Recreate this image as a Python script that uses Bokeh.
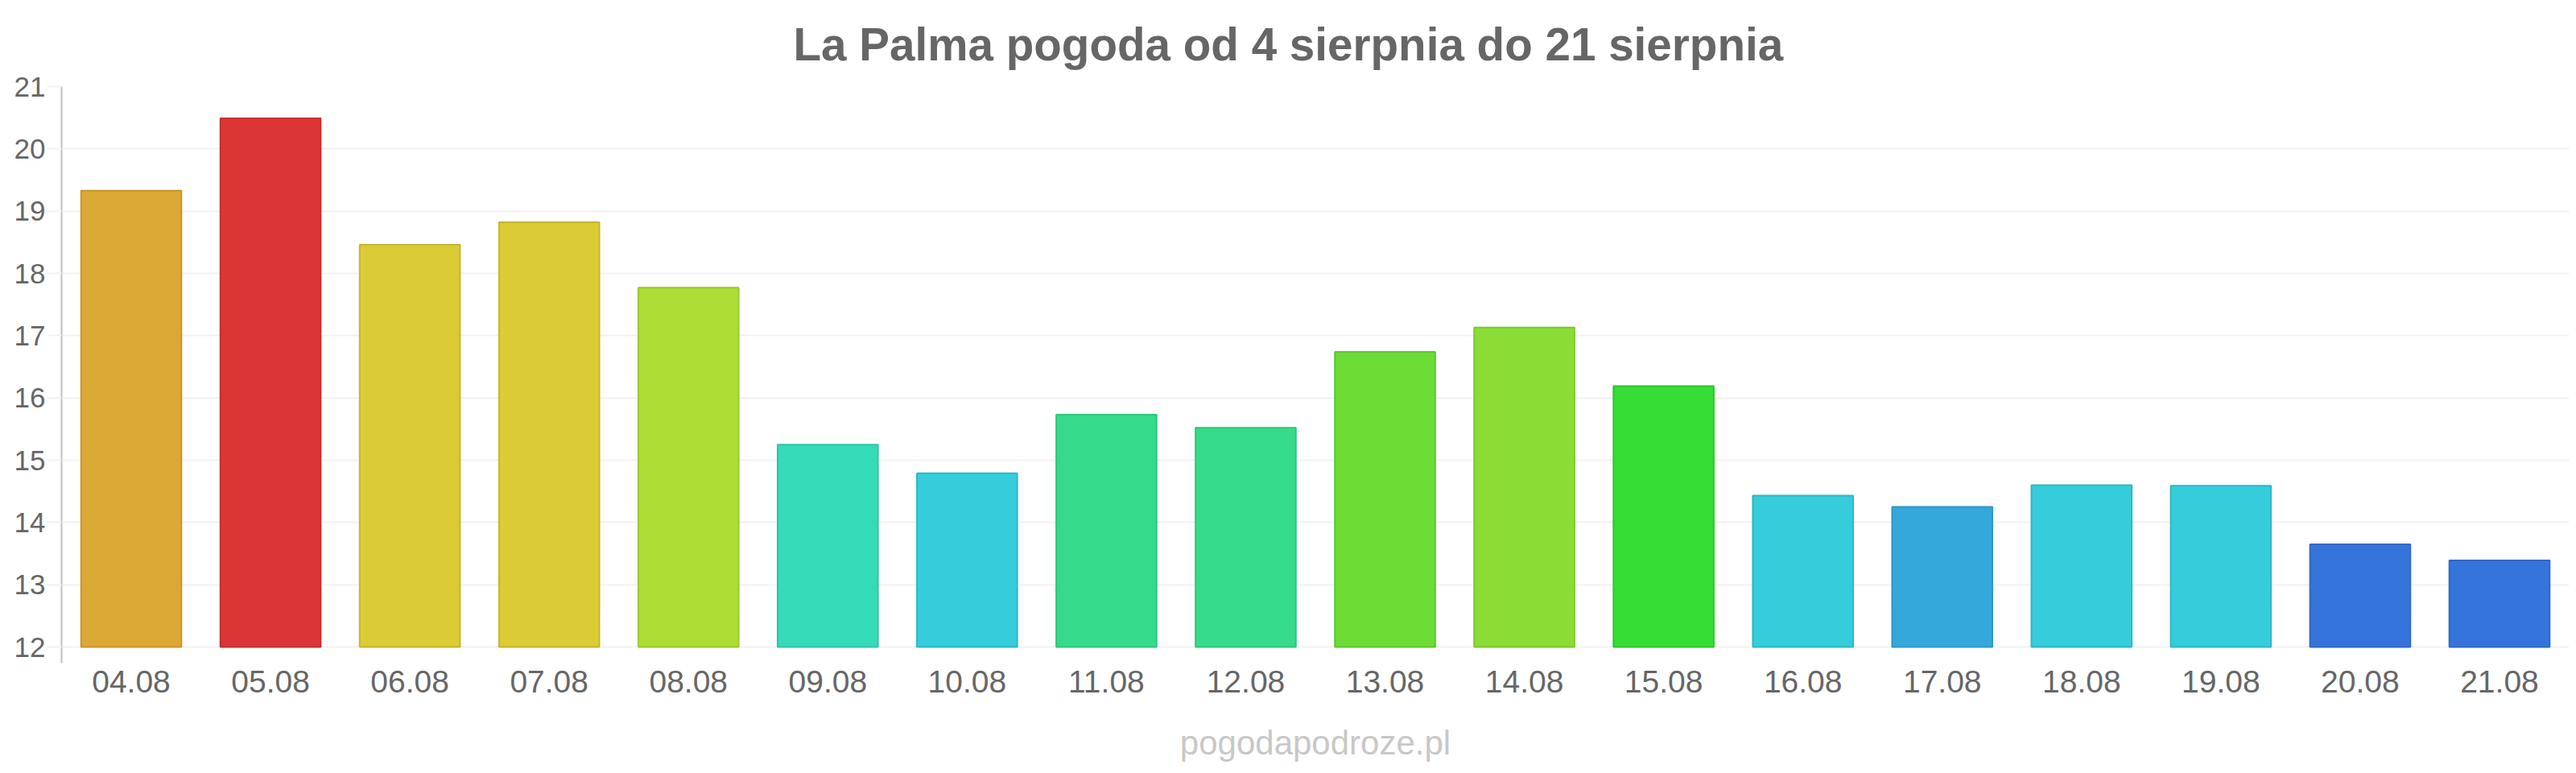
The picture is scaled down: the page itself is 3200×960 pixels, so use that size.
from bokeh.plotting import figure
from bokeh.models import FactorRange, Range1d, FixedTicker, ColumnDataSource
from bokeh.embed import file_html
from bokeh.resources import INLINE

# ---- data ----
days = ["04.08", "05.08", "06.08", "07.08", "08.08", "09.08", "10.08", "11.08", "12.08",
        "13.08", "14.08", "15.08", "16.08", "17.08", "18.08", "19.08", "20.08", "21.08"]
temps = [19.33, 20.49, 18.46, 18.82, 17.77, 15.25, 14.79, 15.73, 15.52,
         16.74, 17.13, 16.19, 14.43, 14.25, 14.6, 14.59, 13.65, 13.39]
bar_colors = ["#DBA835", "#DB3535", "#DBCB35", "#DBCB35", "#AEDE35", "#35DBB9", "#35CDDB", "#35DB8A", "#35DB8A",
              "#6BDD35", "#8BDD35", "#35DD35", "#35CDDB", "#35A8DB", "#35CDDB", "#35CDDB", "#3575DB", "#3575DB"]
y_ticks = [12, 13, 14, 15, 16, 17, 18, 19, 20, 21]
title_text = "La Palma pogoda od 4 sierpnia do 21 sierpnia"
credit_text = "pogodapodroze.pl"

FONT = "Liberation Sans"
TXT = "#666666"


def darker(hx, f=0.9):
    r, g, b = int(hx[1:3], 16), int(hx[3:5], 16), int(hx[5:7], 16)
    return "#%02x%02x%02x" % (int(r * f), int(g * f), int(b * f))


src = ColumnDataSource(dict(day=days, temp=temps, fill=bar_colors,
                            line=[darker(c) for c in bar_colors]))

y_min, y_max = y_ticks[0], y_ticks[-1]
frame_h = 716                      # includes 20px below the lowest gridline
px_per_unit = 696 / (y_max - y_min)
y_floor = y_min - 20 / px_per_unit  # lets the y axis line run a little below 12

p = figure(x_range=FactorRange(*days), y_range=Range1d(y_floor, y_max),
           width=3200, height=960, output_backend="svg", toolbar_location=None,
           min_border_left=76, min_border_right=9, min_border_top=107,
           min_border_bottom=960 - 107 - frame_h,
           outline_line_color=None, background_fill_color="white", border_fill_color="white")

p.vbar(x="day", top="temp", bottom=y_min, width=0.72, source=src,
       fill_color="fill", line_color="line", line_width=2)

p.xgrid.grid_line_color = None
p.ygrid.grid_line_color = "#f2f2f2"
p.ygrid.grid_line_width = 2
p.yaxis.ticker = FixedTicker(ticks=y_ticks)

ya = p.yaxis[0]
ya.axis_line_color = "#c0c0c0"
ya.axis_line_width = 2
ya.major_tick_out = 18
ya.major_tick_in = 0
ya.major_tick_line_color = "#f2f2f2"
ya.major_tick_line_width = 2
ya.minor_tick_line_color = None
ya.major_label_text_font = FONT
ya.major_label_text_font_size = "35px"
ya.major_label_text_color = TXT
ya.major_label_standoff = 2

xa = p.xaxis[0]
xa.axis_line_color = None
xa.major_tick_line_color = None
xa.minor_tick_line_color = None
xa.major_label_text_font = FONT
xa.major_label_text_font_size = "39px"
xa.major_label_text_color = TXT
xa.major_label_standoff = 3
# site credit drawn as the x axis label
xa.axis_label = credit_text
xa.axis_label_standoff = 36
xa.axis_label_text_font = FONT
xa.axis_label_text_font_size = "42px"
xa.axis_label_text_font_style = "normal"
xa.axis_label_text_color = "#c8c8c8"

# title above the plot
p.title.text = title_text
p.title.align = "left"
p.title.offset = 909
p.title.standoff = 42
p.title.vertical_align = "bottom"
p.title.text_font = FONT
p.title.text_font_size = "56.6px"
p.title.text_font_style = "bold"
p.title.text_color = TXT

open("out.html", "w").write(file_html(p, INLINE))
